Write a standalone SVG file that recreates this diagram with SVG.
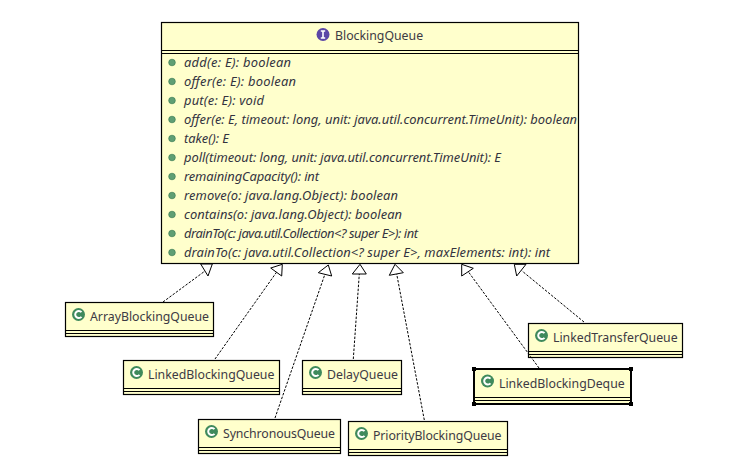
<svg xmlns="http://www.w3.org/2000/svg" width="730" height="472" viewBox="0 0 730 472">
<style>
.box{fill:#ffffcc;stroke:#000;stroke-width:1.2}
.sep{stroke:#000;stroke-width:1.2;fill:none}
.name{font-family:"Noto Sans","DejaVu Sans",sans-serif;font-size:12.3px;fill:#3d3a44}
.m{font-family:"Noto Sans","DejaVu Sans",sans-serif;font-size:12.9px;font-style:italic;fill:#33333f}
.dot{fill:#5f9f74;stroke:#3f8058;stroke-width:.7}
.dash{stroke:#000;stroke-width:1;stroke-dasharray:2.5 1.5;fill:none}
.tri{fill:#fff;stroke:#000;stroke-width:1}
.h{fill:#000}
</style>
<defs>
<g id="c"><circle r="6.5" fill="#3f8a5c"/><path d="M3 -2.4A3.6 3.6 0 1 0 3 2.4" fill="none" stroke="#fff" stroke-width="2"/></g>
<g id="i"><circle r="6.5" fill="#5b46a6"/><path d="M-2.2 -3.5H2.2M-2.2 3.5H2.2M0 -3.5V3.5" fill="none" stroke="#fff" stroke-width="1.6"/></g>
</defs>
<rect width="730" height="472" fill="#fff"/>
<g id="BlockingQueue">
<rect class="box" x="161.5" y="22.5" width="417" height="241"/>
<path class="sep" d="M161.5 50.5H578.5M161.5 53.5H578.5"/>
<use href="#i" x="323" y="34.5"/>
<text class="name" x="335" y="40">BlockingQueue</text>
<circle class="dot" cx="172" cy="62.5" r="3.3"/><text class="m" x="184" y="66.5" textLength="107">add(e: E): boolean</text>
<circle class="dot" cx="172" cy="81.5" r="3.3"/><text class="m" x="184" y="85.5" textLength="112">offer(e: E): boolean</text>
<circle class="dot" cx="172" cy="100.5" r="3.3"/><text class="m" x="184" y="104.5" textLength="80">put(e: E): void</text>
<circle class="dot" cx="172" cy="119.5" r="3.3"/><text class="m" x="184" y="123.5" textLength="393">offer(e: E, timeout: long, unit: java.util.concurrent.TimeUnit): boolean</text>
<circle class="dot" cx="172" cy="138.5" r="3.3"/><text class="m" x="184" y="142.5">take(): E</text>
<circle class="dot" cx="172" cy="157.5" r="3.3"/><text class="m" x="184" y="161.5" textLength="317">poll(timeout: long, unit: java.util.concurrent.TimeUnit): E</text>
<circle class="dot" cx="172" cy="176.5" r="3.3"/><text class="m" x="184" y="180.5" textLength="135">remainingCapacity(): int</text>
<circle class="dot" cx="172" cy="195.5" r="3.3"/><text class="m" x="184" y="199.5" textLength="214">remove(o: java.lang.Object): boolean</text>
<circle class="dot" cx="172" cy="214.5" r="3.3"/><text class="m" x="184" y="218.5" textLength="218">contains(o: java.lang.Object): boolean</text>
<circle class="dot" cx="172" cy="233.5" r="3.3"/><text class="m" x="184" y="237.5" textLength="234">drainTo(c: java.util.Collection&lt;? super E&gt;): int</text>
<circle class="dot" cx="172" cy="252.5" r="3.3"/><text class="m" x="184" y="256.5" textLength="366">drainTo(c: java.util.Collection&lt;? super E&gt;, maxElements: int): int</text>
</g>
<g id="ArrayBlockingQueue">
<rect class="box" x="65.5" y="302.5" width="148" height="34"/>
<path class="sep" d="M65.5 330.5H213.5M65.5 333.5H213.5"/>
<use href="#c" x="78.5" y="314.5"/>
<text class="name" x="90" y="321">ArrayBlockingQueue</text>
</g>
<g id="LinkedBlockingQueue">
<rect class="box" x="123.5" y="360.5" width="156" height="34"/>
<path class="sep" d="M123.5 388.5H279.5M123.5 391.5H279.5"/>
<use href="#c" x="136.5" y="372.5"/>
<text class="name" x="148" y="379">LinkedBlockingQueue</text>
</g>
<g id="DelayQueue">
<rect class="box" x="302.5" y="360.5" width="99" height="34"/>
<path class="sep" d="M302.5 388.5H401.5M302.5 391.5H401.5"/>
<use href="#c" x="315.5" y="372.5"/>
<text class="name" x="327" y="379">DelayQueue</text>
</g>
<g id="SynchronousQueue">
<rect class="box" x="198.5" y="419.5" width="142" height="34"/>
<path class="sep" d="M198.5 447.5H340.5M198.5 450.5H340.5"/>
<use href="#c" x="211.5" y="431.5"/>
<text class="name" x="223" y="438" textLength="112">SynchronousQueue</text>
</g>
<g id="PriorityBlockingQueue">
<rect class="box" x="348.5" y="421.5" width="159" height="34"/>
<path class="sep" d="M348.5 449.5H507.5M348.5 452.5H507.5"/>
<use href="#c" x="361.5" y="433.5"/>
<text class="name" x="373" y="440" textLength="128.5">PriorityBlockingQueue</text>
</g>
<g id="LinkedTransferQueue">
<rect class="box" x="528.5" y="323.5" width="154" height="34"/>
<path class="sep" d="M528.5 351.5H682.5M528.5 354.5H682.5"/>
<use href="#c" x="541.5" y="335.5"/>
<text class="name" x="553" y="342">LinkedTransferQueue</text>
</g>
<g id="LinkedBlockingDeque">
<rect class="box" x="474" y="369" width="157" height="35" style="stroke-width:2"/>
<path class="sep" d="M474 397.5H631M474 400.5H631"/>
<path class="h" d="M472 367h4v4h-4zM629 367h4v4h-4zM472 402h4v4h-4zM629 402h4v4h-4z"/>
<use href="#c" x="487.5" y="381"/>
<text class="name" x="499" y="388">LinkedBlockingDeque</text>
</g>
<g id="connectors">
<path class="dash" d="M163 302L205 271"/><path class="tri" d="M200.7 264L212.3 264L208 276Z"/>
<path class="dash" d="M215 359L276.7 272"/><path class="tri" d="M270.7 268L282.3 264.3L281.7 276Z"/>
<path class="dash" d="M275 418L325 274"/><path class="tri" d="M318.3 272.7L328.3 265L331.7 276Z"/>
<path class="dash" d="M353.3 359L359.3 274"/><path class="tri" d="M352.3 274L360 264.3L366.3 274Z"/>
<path class="dash" d="M424.3 420L396.7 274"/><path class="tri" d="M389.3 275.3L395 264.3L403.3 272.7Z"/>
<path class="dash" d="M539 368L468.3 271.7"/><path class="tri" d="M461.7 276L461.7 264.3L473.3 268.3Z"/>
<path class="dash" d="M584 322L521.7 270.7"/><path class="tri" d="M516.7 276L514.3 264.3L526 264.3Z"/>
</g>
</svg>
